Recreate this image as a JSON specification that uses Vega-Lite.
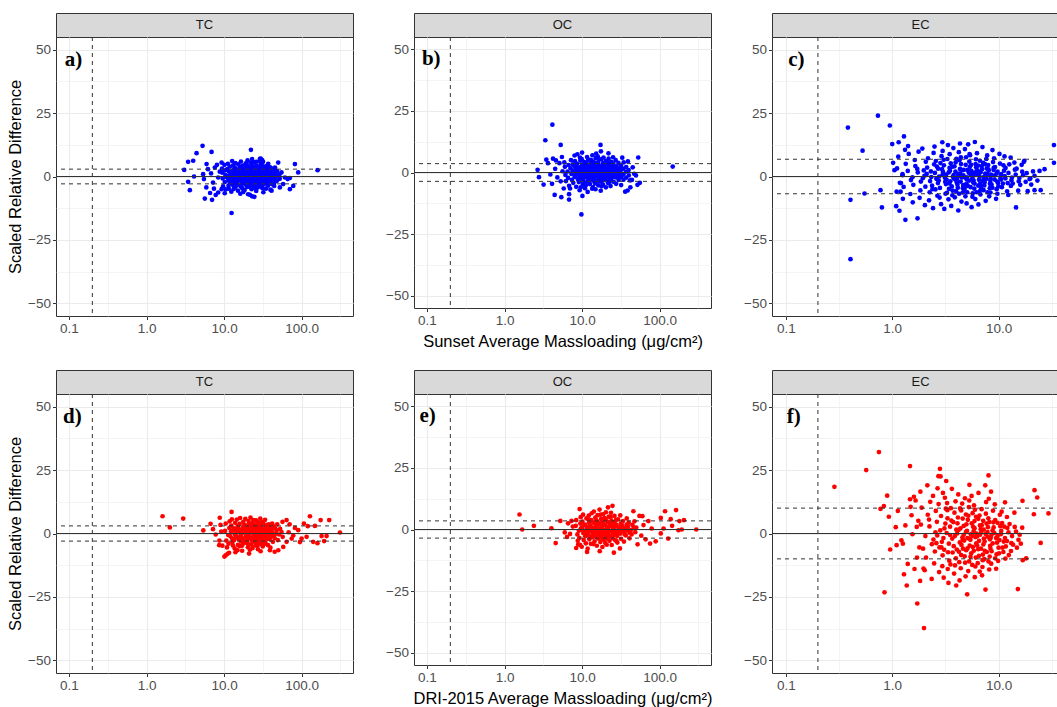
{
"$schema":"https://vega.github.io/schema/vega-lite/v6.json",
"padding":{"left":7,"top":12,"right":0,"bottom":0},
"config":{"font":"Liberation Sans","view":{"stroke":"#333333","strokeWidth":1},
"axis":{"domain":false,"gridColor":"#ebebeb","gridWidth":1.1,"tickColor":"#333333","tickSize":3.5,"tickWidth":1,"labelColor":"#4d4d4d","labelFontSize":13.5,"labelPadding":2,"labelFlush":false,"labelFont":"Liberation Sans","titleFont":"Liberation Sans","titleFontSize":16.5,"titleFontWeight":"normal","titleColor":"#000000","titlePadding":4}},
"datasets":{
"lim":[{"p":"a","y":2.9},{"p":"a","y":-2.9},{"p":"b","y":3.6},{"p":"b","y":-3.6},{"p":"c","y":6.8},{"p":"c","y":-6.8},{"p":"d","y":3.0},{"p":"d","y":-3.0},{"p":"e","y":3.5},{"p":"e","y":-3.5},{"p":"f","y":10.0},{"p":"f","y":-10.0}],
"lab":[{"p":"a","t":"a)","x":0.088,"y":46},{"p":"b","t":"b)","x":0.086,"y":46},{"p":"c","t":"c)","x":0.105,"y":46},{"p":"d","t":"d)","x":0.084,"y":46},{"p":"e","t":"e)","x":0.08,"y":46},{"p":"f","t":"f)","x":0.102,"y":46}],
"a":[{"x":5.28,"y":12.1},{"x":4.42,"y":9.2},{"x":6.9,"y":9.7},{"x":22.2,"y":10.5},{"x":3.44,"y":5.8},{"x":4.0,"y":6.2},{"x":3.06,"y":2.6},{"x":3.44,"y":-2.1},{"x":3.62,"y":-5.4},{"x":5.65,"y":-8.7},{"x":7.0,"y":-9.2},{"x":12.5,"y":-14.4},{"x":82,"y":4.9},{"x":90.4,"y":1.6},{"x":160.8,"y":2.5},{"x":70.6,"y":-5.0},{"x":78,"y":-3.7},{"x":4.1,"y":0.0},{"x":6.6,"y":-6.5},{"x":7.8,"y":-7.3},{"x":5.9,"y":-4.3},{"x":5.95,"y":4.9},{"x":6.2,"y":2.9},{"x":5.37,"y":0.9},{"x":5.5,"y":-1.0},{"x":7.2,"y":-2.4},{"x":8.4,"y":-0.4},{"x":7.6,"y":3.5},{"x":9.3,"y":5.5},{"x":8.4,"y":-6.3},{"x":10.2,"y":-6.6},{"x":9.3,"y":-5.0},{"x":49.9,"y":5.5},{"x":45.4,"y":3.5},{"x":55,"y":1.6},{"x":60.9,"y":-0.4},{"x":66,"y":-1.0},{"x":70.6,"y":-0.6},{"x":57.8,"y":-3.0},{"x":52.4,"y":-4.3},{"x":41,"y":-5.6},{"x":44.3,"y":-3.7},{"x":31,"y":6.5},{"x":29,"y":7.0},{"x":26,"y":5.8},{"x":23,"y":-7.8},{"x":20.4,"y":-7.0},{"x":17.7,"y":-6.1},{"x":6.8,"y":1.2},{"x":7.4,"y":-4.8},{"x":8.1,"y":4.6},{"x":8.8,"y":1.9},
{"x":9.4,"y":3.1},{"x":9.6,"y":-0.8},{"x":9.7,"y":-3.9},{"x":9.5,"y":1.5},{"x":10.1,"y":4.6},{"x":10.4,"y":0.6},{"x":10.2,"y":-2.2},{"x":10.5,"y":-5.1},{"x":10.3,"y":2.4},{"x":11.0,"y":2.9},{"x":11.3,"y":-1.4},{"x":11.1,"y":0.1},{"x":11.4,"y":-3.6},{"x":11.2,"y":5.0},{"x":11.5,"y":-4.8},{"x":12.0,"y":1.8},{"x":12.3,"y":-0.5},{"x":11.9,"y":3.9},{"x":12.2,"y":-2.7},{"x":12.4,"y":-6.0},{"x":12.1,"y":0.9},{"x":13.1,"y":4.4},{"x":12.8,"y":2.2},{"x":13.2,"y":-1.1},{"x":12.9,"y":-3.3},{"x":13.0,"y":0.2},{"x":13.3,"y":-4.9},{"x":12.7,"y":6.1},{"x":14.1,"y":3.2},{"x":13.8,"y":0.7},{"x":14.2,"y":-2.0},{"x":13.9,"y":-4.2},{"x":14.3,"y":1.6},{"x":14.0,"y":5.3},{"x":13.7,"y":-0.9},{"x":15.0,"y":2.6},{"x":15.3,"y":-0.3},{"x":14.9,"y":-2.9},{"x":15.2,"y":4.8},{"x":15.4,"y":1.1},{"x":15.1,"y":-5.6},{"x":14.8,"y":-1.7},{"x":16.1,"y":3.7},{"x":16.4,"y":0.4},{"x":16.0,"y":-1.5},{"x":16.3,"y":-3.8},{"x":16.5,"y":5.9},{"x":15.9,"y":2.0},{"x":16.2,"y":-6.8},{"x":17.3,"y":1.3},{"x":17.6,"y":-0.7},{"x":17.2,"y":4.1},{"x":17.5,"y":-2.5},{"x":17.8,"y":2.8},{"x":17.1,"y":-4.6},{"x":17.4,"y":0.0},{"x":18.6,"y":3.0},{"x":18.9,"y":-1.9},{"x":18.5,"y":0.8},{"x":18.8,"y":-3.2},{"x":19.1,"y":5.2},{"x":18.4,"y":-5.3},{"x":18.7,"y":1.9},{"x":20.0,"y":4.3},{"x":20.3,"y":0.3},{"x":19.8,"y":-1.2},{"x":20.2,"y":2.4},{"x":20.5,"y":-2.8},{"x":19.9,"y":-4.1},{"x":20.1,"y":6.4},{"x":20.4,"y":-0.4},{"x":21.4,"y":1.0},{"x":21.7,"y":-2.3},{"x":21.3,"y":3.5},{"x":21.6,"y":-0.6},{"x":21.9,"y":5.5},{"x":21.2,"y":-3.9},{"x":21.5,"y":-7.2},{"x":22.9,"y":2.2},{"x":23.2,"y":-1.0},{"x":22.8,"y":4.7},{"x":23.1,"y":0.5},{"x":23.4,"y":-3.0},{"x":22.7,"y":-5.0},{"x":23.0,"y":6.9},{"x":24.5,"y":3.3},{"x":24.8,"y":-0.2},{"x":24.4,"y":-1.8},{"x":24.7,"y":1.7},{"x":25.0,"y":-4.4},{"x":24.3,"y":5.6},{"x":24.6,"y":-8.0},{"x":26.2,"y":0.9},{"x":26.5,"y":-2.6},{"x":26.1,"y":2.9},{"x":26.4,"y":4.2},{"x":26.7,"y":-0.8},{"x":26.0,"y":-5.7},{"x":28.0,"y":1.5},{"x":28.3,"y":-1.3},{"x":27.9,"y":3.8},{"x":28.2,"y":-3.5},{"x":28.5,"y":6.0},{"x":27.8,"y":0.1},{"x":29.9,"y":2.5},{"x":30.2,"y":-0.5},{"x":29.8,"y":4.9},{"x":30.1,"y":-2.1},{"x":30.4,"y":-4.0},{"x":29.7,"y":7.1},{"x":32.0,"y":1.2},{"x":32.3,"y":-1.6},{"x":31.9,"y":3.4},{"x":32.2,"y":-3.1},{"x":32.5,"y":0.4},{"x":31.8,"y":5.8},{"x":32.1,"y":-6.2},{"x":34.2,"y":2.0},{"x":34.5,"y":-0.9},{"x":34.1,"y":-2.7},{"x":34.4,"y":4.0},{"x":34.7,"y":-4.8},{"x":36.6,"y":0.6},{"x":36.9,"y":2.7},{"x":36.5,"y":-1.9},{"x":36.8,"y":-3.6},{"x":37.1,"y":5.0},{"x":39.1,"y":1.8},{"x":39.4,"y":-0.3},{"x":39.0,"y":-2.4},{"x":39.3,"y":3.6},{"x":39.6,"y":-5.2},{"x":41.8,"y":0.9},{"x":42.1,"y":2.4},{"x":41.7,"y":-1.4},{"x":42.0,"y":-3.1},{"x":44.7,"y":1.4},{"x":45.0,"y":-0.6},{"x":44.6,"y":3.0},{"x":44.9,"y":-2.2},{"x":47.8,"y":0.2},{"x":48.3,"y":2.1},{"x":48.0,"y":-1.7},{"x":51.8,"y":0.8},{"x":52.3,"y":-0.9},
{"x":10.8,"y":-0.3},{"x":11.6,"y":1.9},{"x":12.6,"y":-1.8},{"x":13.5,"y":3.0},{"x":13.4,"y":-2.4},{"x":14.5,"y":0.1},{"x":14.6,"y":-3.4},{"x":15.6,"y":1.8},{"x":15.7,"y":-0.9},{"x":16.8,"y":2.6},{"x":16.9,"y":-2.9},{"x":17.9,"y":-0.2},{"x":18.1,"y":4.4},{"x":18.2,"y":-1.0},{"x":19.4,"y":1.2},{"x":19.5,"y":-2.2},{"x":19.6,"y":3.6},{"x":20.8,"y":-3.5},{"x":20.9,"y":1.6},{"x":21.1,"y":-1.5},{"x":22.2,"y":0.2},{"x":22.3,"y":2.9},{"x":22.4,"y":-2.0},{"x":22.5,"y":-4.5},{"x":23.7,"y":1.1},{"x":23.8,"y":-2.5},{"x":23.9,"y":3.9},{"x":25.3,"y":0.4},{"x":25.4,"y":-3.2},{"x":25.6,"y":2.4},{"x":25.5,"y":-1.1},{"x":27.0,"y":1.8},{"x":27.1,"y":-1.9},{"x":27.3,"y":3.3},{"x":27.2,"y":-4.3},{"x":29.0,"y":0.7},{"x":29.1,"y":-2.8},{"x":29.2,"y":2.2},{"x":28.9,"y":-0.6},{"x":31.0,"y":1.9},{"x":31.1,"y":-1.0},{"x":31.2,"y":4.1},{"x":31.3,"y":-4.6},{"x":33.1,"y":0.9},{"x":33.3,"y":-2.1},{"x":33.2,"y":2.8},{"x":35.4,"y":1.4},{"x":35.6,"y":-1.5},{"x":35.5,"y":3.6},{"x":37.9,"y":-0.8},{"x":38.1,"y":1.1},{"x":38.0,"y":-3.0},{"x":40.5,"y":0.2},{"x":40.6,"y":-2.0},{"x":40.7,"y":3.2},{"x":43.3,"y":-0.9},{"x":43.4,"y":1.9},{"x":46.3,"y":0.9},{"x":46.4,"y":-1.2},{"x":11.7,"y":-2.0},{"x":12.9,"y":0.9},{"x":14.8,"y":2.2},{"x":16.6,"y":-1.2},{"x":19.0,"y":0.1},{"x":20.6,"y":3.0},{"x":24.0,"y":0.9},{"x":26.8,"y":-0.4},{"x":30.6,"y":0.8},{"x":34.0,"y":-0.1},{"x":28.6,"y":2.9}],
"b":[{"x":4.14,"y":19.4},{"x":3.36,"y":13.1},{"x":5.3,"y":11.2},{"x":17.3,"y":11.2},{"x":2.67,"y":1.1},{"x":2.78,"y":-1.9},{"x":3.19,"y":-4.9},{"x":4.1,"y":-4.6},{"x":4.43,"y":-9.1},{"x":5.4,"y":-10.0},{"x":6.8,"y":-8.8},{"x":6.8,"y":-11.0},{"x":10.1,"y":-9.5},{"x":9.8,"y":-17.0},{"x":3.46,"y":5.2},{"x":3.63,"y":3.8},{"x":53,"y":6.1},{"x":49.5,"y":-1.2},{"x":55.6,"y":-4.2},{"x":51.8,"y":-5.0},{"x":38.7,"y":-7.3},{"x":147.6,"y":2.4},{"x":41.5,"y":-3.2},{"x":4.22,"y":5.6},{"x":4.5,"y":1.5},{"x":4.8,"y":-2.0},{"x":5.1,"y":3.8},{"x":5.3,"y":-3.6},{"x":5.6,"y":0.5},{"x":5.8,"y":-6.5},{"x":5.5,"y":6.3},{"x":45,"y":2.1},{"x":47,"y":-0.5},{"x":44,"y":-3.0},{"x":39,"y":4.5},{"x":42,"y":-6.0},{"x":36,"y":-7.8},{"x":33,"y":6.0},{"x":3.9,"y":-0.8},{"x":4.6,"y":4.9},
{"x":6.0,"y":2.3},{"x":6.1,"y":-1.0},{"x":5.9,"y":4.1},{"x":6.2,"y":-3.5},{"x":6.5,"y":0.4},{"x":6.7,"y":3.0},{"x":6.6,"y":-2.2},{"x":6.8,"y":-5.4},{"x":7.1,"y":1.7},{"x":7.3,"y":-0.6},{"x":7.2,"y":5.0},{"x":7.4,"y":-3.0},{"x":7.0,"y":-6.5},{"x":7.8,"y":2.8},{"x":8.0,"y":-1.8},{"x":7.9,"y":0.9},{"x":8.1,"y":4.6},{"x":7.7,"y":-4.2},{"x":8.0,"y":6.9},{"x":8.5,"y":1.2},{"x":8.7,"y":-0.3},{"x":8.6,"y":3.5},{"x":8.8,"y":-2.6},{"x":8.4,"y":-5.8},{"x":8.7,"y":7.4},{"x":9.2,"y":2.1},{"x":9.4,"y":0.0},{"x":9.3,"y":-1.5},{"x":9.5,"y":4.8},{"x":9.1,"y":-3.9},{"x":9.4,"y":6.0},{"x":9.3,"y":-7.2},{"x":10.0,"y":3.1},{"x":10.2,"y":0.8},{"x":10.1,"y":-0.9},{"x":10.3,"y":-2.9},{"x":9.9,"y":5.4},{"x":10.2,"y":-5.0},{"x":10.0,"y":8.1},{"x":10.8,"y":1.5},{"x":11.0,"y":-1.9},{"x":10.9,"y":2.6},{"x":11.1,"y":-4.1},{"x":10.7,"y":4.2},{"x":11.0,"y":0.2},{"x":10.9,"y":-6.4},{"x":11.7,"y":2.9},{"x":11.9,"y":-0.5},{"x":11.8,"y":1.0},{"x":12.0,"y":-2.4},{"x":11.6,"y":6.3},{"x":11.9,"y":-3.6},{"x":11.8,"y":-7.9},{"x":12.7,"y":0.6},{"x":12.9,"y":3.7},{"x":12.8,"y":-1.3},{"x":13.0,"y":5.1},{"x":12.6,"y":-4.7},{"x":12.9,"y":2.0},{"x":12.8,"y":-0.1},{"x":13.7,"y":1.9},{"x":13.9,"y":-2.1},{"x":13.8,"y":4.4},{"x":14.0,"y":-0.7},{"x":13.6,"y":7.0},{"x":13.9,"y":-3.3},{"x":13.8,"y":-5.9},{"x":14.8,"y":3.3},{"x":15.0,"y":0.3},{"x":14.9,"y":-1.6},{"x":15.1,"y":2.4},{"x":14.7,"y":-4.4},{"x":15.0,"y":5.8},{"x":14.9,"y":-6.8},{"x":16.0,"y":1.1},{"x":16.2,"y":-0.4},{"x":16.1,"y":4.0},{"x":16.3,"y":-2.8},{"x":15.9,"y":6.6},{"x":16.2,"y":-5.2},{"x":16.1,"y":2.7},{"x":17.3,"y":2.2},{"x":17.5,"y":-1.1},{"x":17.4,"y":0.5},{"x":17.6,"y":5.3},{"x":17.2,"y":-3.7},{"x":17.5,"y":8.6},{"x":17.4,"y":-7.4},{"x":18.7,"y":3.8},{"x":18.9,"y":0.1},{"x":18.8,"y":-2.3},{"x":19.0,"y":1.6},{"x":18.6,"y":-4.9},{"x":18.9,"y":6.1},{"x":20.1,"y":1.4},{"x":20.3,"y":-0.8},{"x":20.2,"y":4.7},{"x":20.4,"y":-3.1},{"x":20.0,"y":2.9},{"x":20.3,"y":-6.0},{"x":21.7,"y":0.7},{"x":21.9,"y":3.2},{"x":21.8,"y":-1.7},{"x":22.0,"y":5.6},{"x":21.6,"y":-4.3},{"x":21.9,"y":7.8},{"x":23.4,"y":2.0},{"x":23.6,"y":-0.2},{"x":23.5,"y":-2.7},{"x":23.7,"y":4.3},{"x":23.3,"y":-5.5},{"x":25.2,"y":1.3},{"x":25.4,"y":-1.4},{"x":25.3,"y":3.6},{"x":25.5,"y":-3.8},{"x":25.1,"y":6.2},{"x":27.2,"y":0.4},{"x":27.4,"y":2.5},{"x":27.3,"y":-2.0},{"x":27.5,"y":-4.6},{"x":27.1,"y":5.0},{"x":29.3,"y":1.8},{"x":29.5,"y":-0.9},{"x":29.4,"y":3.9},{"x":29.6,"y":-3.0},{"x":31.6,"y":0.9},{"x":31.8,"y":-1.8},{"x":31.7,"y":2.8},{"x":31.9,"y":-5.1},{"x":34.1,"y":1.6},{"x":34.3,"y":-0.6},{"x":34.2,"y":-2.9},{"x":34.4,"y":4.1},{"x":36.9,"y":0.3},{"x":37.1,"y":2.2},{"x":37.0,"y":-2.1},{"x":39.9,"y":1.0},{"x":40.1,"y":-1.2},
{"x":7.5,"y":0.2},{"x":7.6,"y":3.3},{"x":8.2,"y":-1.1},{"x":8.3,"y":2.0},{"x":8.9,"y":0.6},{"x":9.0,"y":-3.0},{"x":9.7,"y":1.5},{"x":9.8,"y":-2.4},{"x":10.5,"y":2.4},{"x":10.6,"y":-0.2},{"x":10.4,"y":-4.1},{"x":11.3,"y":0.5},{"x":11.4,"y":3.8},{"x":11.5,"y":-1.4},{"x":12.2,"y":-0.9},{"x":12.3,"y":2.2},{"x":12.4,"y":-3.1},{"x":13.2,"y":1.1},{"x":13.3,"y":-2.0},{"x":13.4,"y":3.0},{"x":14.3,"y":0.9},{"x":14.4,"y":-1.0},{"x":14.4,"y":4.0},{"x":14.5,"y":-3.0},{"x":15.5,"y":1.8},{"x":15.5,"y":-0.8},{"x":15.6,"y":-3.6},{"x":15.7,"y":3.9},{"x":16.7,"y":0.2},{"x":16.7,"y":2.1},{"x":16.8,"y":-1.9},{"x":18.0,"y":1.0},{"x":18.1,"y":-0.6},{"x":18.2,"y":3.0},{"x":18.1,"y":-3.3},{"x":19.4,"y":0.5},{"x":19.5,"y":-1.5},{"x":19.6,"y":2.3},{"x":20.8,"y":0.0},{"x":20.9,"y":2.0},{"x":21.0,"y":-2.5},{"x":22.6,"y":1.5},{"x":22.7,"y":-0.9},{"x":22.8,"y":-3.8},{"x":24.4,"y":0.6},{"x":24.5,"y":2.8},{"x":24.4,"y":-1.9},{"x":26.2,"y":-0.3},{"x":26.3,"y":1.8},{"x":28.3,"y":0.9},{"x":28.4,"y":-1.5},{"x":30.5,"y":0.1},{"x":30.6,"y":2.0},{"x":33.0,"y":-1.0},{"x":12.0,"y":5.2},{"x":16.5,"y":5.3},{"x":9.6,"y":-6.0},{"x":13.5,"y":-6.6},{"x":17.8,"y":-5.6},{"x":21.1,"y":4.2},{"x":15.2,"y":7.7},{"x":11.2,"y":-5.2}],
"c":[{"x":0.383,"y":19.3},{"x":0.734,"y":24.0},{"x":0.95,"y":20.1},{"x":0.526,"y":10.2},{"x":0.405,"y":-9.2},{"x":0.549,"y":-6.7},{"x":0.776,"y":-5.4},{"x":0.8,"y":-12.2},{"x":0.405,"y":-32.6},{"x":1.33,"y":-17.1},{"x":1.73,"y":-16.5},{"x":1.09,"y":-11.7},{"x":1.17,"y":-13.5},{"x":1.0,"y":12.8},{"x":1.29,"y":15.8},{"x":1.15,"y":13.5},{"x":1.02,"y":5.4},{"x":1.05,"y":2.5},{"x":33.2,"y":12.4},{"x":33.2,"y":5.4},{"x":27.1,"y":2.9},{"x":24.3,"y":2.2},{"x":14.6,"y":-12.2},{"x":24.9,"y":-5.4},{"x":21.8,"y":-5.4},{"x":17.5,"y":6.2},{"x":13.0,"y":7.5},{"x":1.21,"y":-2.6},{"x":1.25,"y":0.9},{"x":1.1,"y":-6.0},
{"x":1.11,"y":3.2},{"x":1.18,"y":-2.5},{"x":1.14,"y":7.8},{"x":1.2,"y":-6.0},{"x":1.25,"y":0.5},{"x":1.34,"y":5.0},{"x":1.28,"y":-4.1},{"x":1.32,"y":10.5},{"x":1.26,"y":-8.8},{"x":1.4,"y":2.2},{"x":1.5,"y":-1.4},{"x":1.43,"y":8.9},{"x":1.48,"y":-6.9},{"x":1.41,"y":12.0},{"x":1.55,"y":-0.3},{"x":1.65,"y":4.1},{"x":1.58,"y":-3.3},{"x":1.63,"y":6.5},{"x":1.56,"y":-10.2},{"x":1.74,"y":1.6},{"x":1.86,"y":-2.0},{"x":1.77,"y":9.8},{"x":1.84,"y":-5.5},{"x":1.72,"y":3.0},{"x":1.81,"y":-8.4},{"x":1.94,"y":-0.7},{"x":2.07,"y":5.8},{"x":1.98,"y":2.4},{"x":2.05,"y":-4.0},{"x":1.92,"y":11.0},{"x":2.03,"y":-11.3},{"x":2.01,"y":0.3},{"x":2.13,"y":3.5},{"x":2.27,"y":-1.8},{"x":2.17,"y":7.2},{"x":2.25,"y":-6.2},{"x":2.11,"y":1.0},{"x":2.22,"y":-9.4},{"x":2.33,"y":-0.2},{"x":2.48,"y":4.8},{"x":2.37,"y":-3.6},{"x":2.45,"y":9.3},{"x":2.31,"y":2.0},{"x":2.42,"y":-12.5},{"x":2.39,"y":-5.0},{"x":2.52,"y":1.4},{"x":2.69,"y":-2.6},{"x":2.57,"y":6.1},{"x":2.66,"y":-7.6},{"x":2.5,"y":11.8},{"x":2.63,"y":3.9},{"x":2.6,"y":-0.9},{"x":2.76,"y":0.0},{"x":2.94,"y":2.9},{"x":2.81,"y":-4.5},{"x":2.91,"y":8.0},{"x":2.74,"y":-1.6},{"x":2.88,"y":-10.9},{"x":2.84,"y":5.3},{"x":2.96,"y":13.5},{"x":3.0,"y":1.8},{"x":3.2,"y":-3.0},{"x":3.06,"y":4.4},{"x":3.17,"y":-6.8},{"x":2.98,"y":10.1},{"x":3.13,"y":-0.5},{"x":3.09,"y":-12.8},{"x":3.24,"y":-1.2},{"x":3.46,"y":3.4},{"x":3.3,"y":6.9},{"x":3.42,"y":-4.9},{"x":3.22,"y":0.8},{"x":3.38,"y":-9.0},{"x":3.34,"y":12.4},{"x":3.44,"y":-2.7},{"x":3.49,"y":2.3},{"x":3.72,"y":-0.1},{"x":3.55,"y":5.2},{"x":3.68,"y":-7.4},{"x":3.47,"y":8.8},{"x":3.63,"y":-3.9},{"x":3.59,"y":-11.6},{"x":3.78,"y":0.6},{"x":4.03,"y":-2.2},{"x":3.85,"y":4.0},{"x":3.99,"y":-5.8},{"x":3.76,"y":11.2},{"x":3.93,"y":1.9},{"x":3.88,"y":-8.2},{"x":4.01,"y":7.0},{"x":4.07,"y":-0.8},{"x":4.34,"y":3.0},{"x":4.14,"y":-4.4},{"x":4.29,"y":6.4},{"x":4.05,"y":-1.9},{"x":4.23,"y":9.6},{"x":4.18,"y":-13.4},{"x":4.31,"y":0.2},{"x":4.36,"y":1.2},{"x":4.65,"y":-3.4},{"x":4.44,"y":4.9},{"x":4.6,"y":-6.3},{"x":4.34,"y":13.0},{"x":4.53,"y":-0.4},{"x":4.48,"y":-9.9},{"x":4.7,"y":2.6},{"x":5.01,"y":-1.1},{"x":4.78,"y":-5.2},{"x":4.95,"y":7.6},{"x":4.67,"y":0.5},{"x":4.88,"y":-7.8},{"x":4.83,"y":10.8},{"x":4.98,"y":-2.9},{"x":5.04,"y":-0.3},{"x":5.37,"y":3.8},{"x":5.13,"y":-3.6},{"x":5.31,"y":5.9},{"x":5.01,"y":-10.6},{"x":5.24,"y":1.5},{"x":5.18,"y":12.7},{"x":5.43,"y":1.0},{"x":5.78,"y":-2.4},{"x":5.52,"y":4.6},{"x":5.72,"y":-6.6},{"x":5.4,"y":8.4},{"x":5.64,"y":-0.9},{"x":5.58,"y":-12.1},{"x":5.82,"y":-1.5},{"x":6.2,"y":2.1},{"x":5.92,"y":-4.8},{"x":6.13,"y":6.8},{"x":5.79,"y":0.3},{"x":6.05,"y":-8.9},{"x":5.99,"y":13.6},{"x":6.16,"y":3.6},{"x":6.3,"y":0.7},{"x":6.71,"y":-2.9},{"x":6.41,"y":4.3},{"x":6.64,"y":-5.9},{"x":6.27,"y":9.2},{"x":6.55,"y":-1.3},{"x":6.47,"y":-11.0},{"x":6.79,"y":1.7},{"x":7.23,"y":-0.6},{"x":6.9,"y":-3.8},{"x":7.15,"y":5.4},{"x":6.76,"y":-7.1},{"x":7.06,"y":11.6},{"x":7.0,"y":2.9},{"x":7.27,"y":-0.2},{"x":7.75,"y":3.2},{"x":7.4,"y":-2.3},{"x":7.66,"y":6.9},{"x":7.24,"y":-5.4},{"x":7.57,"y":-9.6},{"x":7.5,"y":1.1},{"x":7.85,"y":0.9},{"x":8.37,"y":-1.7},{"x":7.99,"y":4.5},{"x":8.27,"y":-4.6},{"x":7.82,"y":8.3},{"x":8.17,"y":-7.8},{"x":8.08,"y":2.4},{"x":8.43,"y":-0.9},{"x":8.99,"y":2.6},{"x":8.58,"y":-3.1},{"x":8.88,"y":5.7},{"x":8.4,"y":-6.3},{"x":8.77,"y":10.4},{"x":9.11,"y":0.4},{"x":9.71,"y":-2.0},{"x":9.27,"y":3.7},{"x":9.6,"y":-5.0},{"x":9.08,"y":7.2},{"x":9.48,"y":-8.8},{"x":9.79,"y":1.9},{"x":10.43,"y":-0.7},{"x":9.96,"y":-3.9},{"x":10.32,"y":5.1},{"x":9.75,"y":-6.8},{"x":10.2,"y":8.9},{"x":10.56,"y":-1.2},{"x":11.26,"y":2.3},{"x":10.75,"y":-4.2},{"x":11.13,"y":4.4},{"x":10.5,"y":0.6},{"x":11.43,"y":0.2},{"x":12.19,"y":-2.6},{"x":11.64,"y":3.4},{"x":12.05,"y":-5.9},{"x":11.38,"y":7.9},{"x":12.4,"y":1.4},{"x":13.22,"y":-1.5},{"x":12.62,"y":4.8},{"x":13.07,"y":-3.7},{"x":12.35,"y":-7.3},{"x":13.37,"y":-0.4},{"x":14.25,"y":2.7},{"x":13.61,"y":-2.8},{"x":14.09,"y":5.5},{"x":14.5,"y":0.8},{"x":15.5,"y":-1.9},{"x":14.8,"y":3.1},{"x":15.3,"y":-5.6},{"x":15.7,"y":-0.6},{"x":16.7,"y":1.9},{"x":16.0,"y":-3.3},{"x":16.5,"y":4.6},{"x":17.0,"y":0.5},{"x":18.0,"y":-2.1},{"x":17.3,"y":5.8},{"x":18.4,"y":1.3},{"x":19.6,"y":-1.0},{"x":18.8,"y":-5.8},{"x":19.9,"y":-0.8},{"x":21.1,"y":2.0},{"x":20.3,"y":-3.2},{"x":21.8,"y":0.3},{"x":23.2,"y":-1.6},
{"x":2.55,"y":-5.1},{"x":2.7,"y":3.1},{"x":2.79,"y":-8.3},{"x":2.99,"y":0.9},{"x":3.04,"y":6.6},{"x":3.15,"y":-2.1},{"x":3.27,"y":-6.4},{"x":3.4,"y":1.6},{"x":3.52,"y":-1.9},{"x":3.65,"y":3.8},{"x":3.7,"y":-5.6},{"x":3.82,"y":-0.9},{"x":3.95,"y":5.6},{"x":4.1,"y":-3.2},{"x":4.12,"y":1.0},{"x":4.26,"y":-6.8},{"x":4.4,"y":-2.0},{"x":4.42,"y":7.6},{"x":4.57,"y":2.5},{"x":4.62,"y":-4.6},{"x":4.74,"y":-0.2},{"x":4.91,"y":4.6},{"x":4.93,"y":-3.9},{"x":5.07,"y":-6.2},{"x":5.1,"y":2.6},{"x":5.28,"y":-1.6},{"x":5.34,"y":8.8},{"x":5.46,"y":-4.2},{"x":5.55,"y":2.2},{"x":5.68,"y":-8.0},{"x":5.85,"y":1.4},{"x":5.95,"y":-2.8},{"x":6.08,"y":4.9},{"x":6.22,"y":-6.2},{"x":6.35,"y":2.4},{"x":6.45,"y":-3.6},{"x":6.6,"y":0.2},{"x":6.68,"y":6.2},{"x":6.84,"y":-4.9},{"x":6.95,"y":4.1},{"x":7.1,"y":-1.8},{"x":7.35,"y":-3.5},{"x":7.45,"y":4.9},{"x":7.7,"y":-0.9},{"x":7.9,"y":-6.2},{"x":8.02,"y":2.8},{"x":8.3,"y":-2.9},{"x":8.5,"y":0.8},{"x":8.75,"y":-4.4},{"x":9.0,"y":3.4},{"x":9.2,"y":-1.2},{"x":9.55,"y":1.1},{"x":9.9,"y":-2.6},{"x":10.6,"y":0.9},{"x":11.0,"y":-2.8},{"x":11.6,"y":-0.8}],
"d":[{"x":1.61,"y":6.8},{"x":2.0,"y":2.4},{"x":2.97,"y":5.9},{"x":5.4,"y":1.2},{"x":6.7,"y":3.8},{"x":7.2,"y":1.7},{"x":8.8,"y":6.2},{"x":12.5,"y":8.5},{"x":8.66,"y":-4.6},{"x":10.5,"y":-8.6},{"x":10.1,"y":-9.1},{"x":11.1,"y":-8.0},{"x":312,"y":0.4},{"x":227,"y":5.3},{"x":176,"y":5.3},{"x":128,"y":6.8},{"x":107,"y":3.9},{"x":148.6,"y":3.0},{"x":210,"y":-1.0},{"x":181,"y":-1.0},{"x":141,"y":-3.3},{"x":116,"y":-1.3},{"x":100,"y":-2.0},{"x":90.4,"y":1.3},{"x":82,"y":2.2},{"x":64,"y":5.3},{"x":56.7,"y":4.6},{"x":74.5,"y":-2.0},{"x":64,"y":-3.3},{"x":58,"y":-5.3},{"x":50,"y":-6.6},{"x":39,"y":-6.6},{"x":21,"y":-7.9},{"x":29.6,"y":-7.0},{"x":7.8,"y":-0.4},{"x":8.7,"y":-2.8},{"x":9.2,"y":0.8},{"x":9.5,"y":-4.8},{"x":68,"y":0.5},{"x":78,"y":-0.8},{"x":95,"y":-3.4},{"x":120,"y":2.9},{"x":160,"y":-3.8},{"x":195,"y":-3.0},{"x":9.0,"y":3.4},{"x":14,"y":-7.4},{"x":45,"y":-7.2},{"x":70,"y":3.6},
{"x":10.3,"y":1.0},{"x":10.7,"y":-2.8},{"x":10.5,"y":3.9},{"x":10.9,"y":-5.5},{"x":11.3,"y":-0.6},{"x":11.7,"y":2.2},{"x":11.4,"y":-4.0},{"x":11.8,"y":4.8},{"x":11.6,"y":-7.6},{"x":12.3,"y":0.8},{"x":12.7,"y":-1.9},{"x":12.4,"y":3.1},{"x":12.8,"y":-3.4},{"x":12.6,"y":5.6},{"x":13.4,"y":2.0},{"x":13.8,"y":-0.3},{"x":13.5,"y":-2.6},{"x":13.9,"y":4.2},{"x":13.7,"y":-5.9},{"x":14.5,"y":0.4},{"x":15.0,"y":2.9},{"x":14.7,"y":-1.5},{"x":15.1,"y":-4.5},{"x":14.6,"y":5.5},{"x":14.9,"y":-6.6},{"x":15.7,"y":1.6},{"x":16.3,"y":-0.8},{"x":15.9,"y":3.8},{"x":16.4,"y":-3.0},{"x":16.1,"y":6.1},{"x":15.8,"y":-5.0},{"x":17.0,"y":0.1},{"x":17.6,"y":2.5},{"x":17.2,"y":-2.1},{"x":17.7,"y":4.6},{"x":17.4,"y":-4.1},{"x":17.1,"y":-6.8},{"x":18.4,"y":1.3},{"x":19.0,"y":-1.1},{"x":18.6,"y":3.3},{"x":19.1,"y":-3.6},{"x":18.8,"y":5.8},{"x":18.5,"y":0.6},{"x":19.8,"y":2.4},{"x":20.5,"y":-0.4},{"x":20.1,"y":-2.5},{"x":20.7,"y":4.9},{"x":20.3,"y":-5.4},{"x":19.9,"y":1.0},{"x":21.4,"y":0.3},{"x":22.2,"y":3.0},{"x":21.7,"y":-1.7},{"x":22.3,"y":-4.3},{"x":21.9,"y":6.3},{"x":21.5,"y":-6.4},{"x":23.1,"y":1.8},{"x":23.9,"y":-0.9},{"x":23.4,"y":4.1},{"x":24.0,"y":-3.2},{"x":23.6,"y":2.6},{"x":23.2,"y":-5.8},{"x":24.9,"y":0.7},{"x":25.7,"y":-2.3},{"x":25.2,"y":3.5},{"x":25.8,"y":5.2},{"x":25.4,"y":-4.7},{"x":25.0,"y":-1.2},{"x":26.8,"y":2.1},{"x":27.6,"y":-0.2},{"x":27.1,"y":-3.0},{"x":27.7,"y":4.4},{"x":27.3,"y":-6.2},{"x":26.9,"y":1.4},{"x":28.8,"y":0.9},{"x":29.6,"y":-1.6},{"x":29.1,"y":3.0},{"x":29.7,"y":-4.0},{"x":29.3,"y":5.9},{"x":30.9,"y":1.7},{"x":31.9,"y":-0.6},{"x":31.3,"y":-2.7},{"x":32.0,"y":4.0},{"x":31.5,"y":-5.1},{"x":33.2,"y":0.2},{"x":34.2,"y":2.7},{"x":33.6,"y":-1.9},{"x":34.3,"y":-3.8},{"x":33.8,"y":5.4},{"x":35.7,"y":1.1},{"x":36.8,"y":-1.0},{"x":36.1,"y":3.4},{"x":36.9,"y":-4.6},{"x":38.3,"y":0.5},{"x":39.5,"y":2.3},{"x":38.8,"y":-2.2},{"x":39.6,"y":-5.6},{"x":41.2,"y":1.5},{"x":42.5,"y":-0.5},{"x":41.7,"y":3.9},{"x":42.6,"y":-3.3},{"x":44.3,"y":0.0},{"x":45.8,"y":2.0},{"x":44.9,"y":-1.8},{"x":47.7,"y":1.2},{"x":49.3,"y":-2.6},{"x":48.4,"y":3.6},{"x":51.2,"y":-0.4},{"x":52.9,"y":1.8},{"x":55.1,"y":0.6},{"x":57.0,"y":-1.3},
{"x":12.0,"y":-1.0},{"x":13.0,"y":1.2},{"x":14.2,"y":-1.0},{"x":14.3,"y":1.5},{"x":15.4,"y":-2.2},{"x":15.5,"y":0.9},{"x":16.6,"y":1.1},{"x":16.7,"y":-1.6},{"x":17.9,"y":0.9},{"x":18.0,"y":-2.9},{"x":18.1,"y":3.0},{"x":19.4,"y":0.2},{"x":19.5,"y":2.6},{"x":19.6,"y":-1.8},{"x":20.9,"y":-1.2},{"x":21.0,"y":1.6},{"x":21.1,"y":3.8},{"x":22.6,"y":0.9},{"x":22.7,"y":-2.6},{"x":22.8,"y":2.1},{"x":24.3,"y":-0.4},{"x":24.4,"y":1.2},{"x":24.5,"y":-2.3},{"x":24.6,"y":3.1},{"x":26.1,"y":0.1},{"x":26.2,"y":2.6},{"x":26.3,"y":-1.9},{"x":26.4,"y":-3.8},{"x":28.1,"y":-0.9},{"x":28.2,"y":1.6},{"x":28.3,"y":3.6},{"x":28.0,"y":-2.6},{"x":30.2,"y":0.4},{"x":30.3,"y":-1.8},{"x":30.1,"y":2.5},{"x":32.5,"y":1.1},{"x":32.6,"y":-1.2},{"x":32.7,"y":-4.2},{"x":35.0,"y":0.2},{"x":35.1,"y":2.1},{"x":35.2,"y":-2.3},{"x":37.6,"y":-0.3},{"x":37.7,"y":1.4},{"x":40.4,"y":-1.2},{"x":40.5,"y":0.9},{"x":43.5,"y":-0.8},{"x":43.6,"y":2.8},{"x":46.8,"y":-0.1},{"x":20.0,"y":-3.7},{"x":23.8,"y":5.3},{"x":27.0,"y":-4.9},{"x":31.0,"y":4.6},{"x":17.0,"y":-4.8},{"x":13.0,"y":-4.7},{"x":38.0,"y":3.6}],
"e":[{"x":1.56,"y":6.1},{"x":1.69,"y":0.0},{"x":2.39,"y":1.5},{"x":4.02,"y":0.5},{"x":4.57,"y":-5.5},{"x":5.25,"y":3.5},{"x":5.98,"y":-1.2},{"x":6.4,"y":-3.0},{"x":7.3,"y":3.5},{"x":9.3,"y":8.3},{"x":8.9,"y":-6.1},{"x":8.4,"y":-7.5},{"x":11.6,"y":-9.1},{"x":16.9,"y":-8.8},{"x":25.7,"y":-9.4},{"x":24.7,"y":9.6},{"x":30.8,"y":-7.7},{"x":45.9,"y":7.4},{"x":54.9,"y":5.5},{"x":71.6,"y":3.4},{"x":79,"y":0.4},{"x":75.3,"y":-5.7},{"x":89,"y":-4.8},{"x":117.5,"y":7.4},{"x":103.6,"y":4.7},{"x":139,"y":4.2},{"x":163,"y":7.9},{"x":180,"y":3.4},{"x":206,"y":3.8},{"x":145,"y":1.5},{"x":112.5,"y":0.4},{"x":175,"y":-0.3},{"x":193,"y":0.0},{"x":297,"y":0.0},{"x":129,"y":-3.7},{"x":103.6,"y":-1.6},{"x":58,"y":-2.5},{"x":62,"y":1.8},{"x":66,"y":-4.0},{"x":52,"y":-6.0},{"x":60,"y":5.4},{"x":7.0,"y":-1.8},{"x":7.6,"y":1.2},{"x":6.6,"y":2.5},{"x":50,"y":0.8},
{"x":8.3,"y":1.5},{"x":8.7,"y":-2.0},{"x":8.4,"y":3.8},{"x":8.8,"y":-4.6},{"x":9.1,"y":-0.5},{"x":9.5,"y":2.4},{"x":9.2,"y":-3.4},{"x":9.6,"y":5.0},{"x":9.4,"y":-6.2},{"x":10.0,"y":0.9},{"x":10.4,"y":-1.5},{"x":10.1,"y":3.2},{"x":10.5,"y":-4.3},{"x":10.3,"y":6.0},{"x":9.9,"y":-7.0},{"x":10.9,"y":2.0},{"x":11.3,"y":-0.2},{"x":11.0,"y":-2.7},{"x":11.4,"y":4.5},{"x":11.2,"y":-5.6},{"x":11.9,"y":0.3},{"x":12.3,"y":2.8},{"x":12.0,"y":-1.8},{"x":12.4,"y":-4.0},{"x":12.2,"y":5.6},{"x":11.8,"y":-7.8},{"x":12.9,"y":1.4},{"x":13.5,"y":-0.9},{"x":13.1,"y":3.8},{"x":13.6,"y":-3.1},{"x":13.3,"y":6.6},{"x":13.0,"y":-5.8},{"x":14.1,"y":0.0},{"x":14.7,"y":2.3},{"x":14.3,"y":-2.3},{"x":14.8,"y":4.8},{"x":14.5,"y":-4.8},{"x":14.2,"y":7.3},{"x":15.4,"y":1.2},{"x":16.0,"y":-1.2},{"x":15.6,"y":3.3},{"x":16.1,"y":-3.7},{"x":15.8,"y":5.8},{"x":15.5,"y":-6.6},{"x":16.7,"y":2.6},{"x":17.5,"y":-0.4},{"x":17.0,"y":-2.6},{"x":17.6,"y":4.3},{"x":17.2,"y":-5.1},{"x":16.8,"y":8.1},{"x":18.2,"y":0.6},{"x":19.0,"y":-1.9},{"x":18.5,"y":3.0},{"x":19.1,"y":-4.2},{"x":18.7,"y":6.2},{"x":18.3,"y":-7.1},{"x":19.8,"y":1.8},{"x":20.6,"y":-0.7},{"x":20.1,"y":4.1},{"x":20.7,"y":-3.0},{"x":20.3,"y":7.0},{"x":19.9,"y":-5.5},{"x":21.5,"y":0.2},{"x":22.5,"y":2.5},{"x":21.9,"y":-2.1},{"x":22.6,"y":-4.6},{"x":22.1,"y":5.2},{"x":21.6,"y":9.0},{"x":23.5,"y":1.5},{"x":24.5,"y":-1.0},{"x":23.9,"y":3.6},{"x":24.6,"y":-3.5},{"x":24.1,"y":-6.3},{"x":23.6,"y":6.8},{"x":25.6,"y":0.7},{"x":26.7,"y":-1.6},{"x":26.0,"y":2.9},{"x":26.8,"y":-4.4},{"x":26.2,"y":5.5},{"x":27.8,"y":1.9},{"x":29.0,"y":-0.3},{"x":28.3,"y":-2.6},{"x":29.1,"y":4.1},{"x":28.5,"y":-5.3},{"x":30.3,"y":0.4},{"x":31.7,"y":2.4},{"x":30.9,"y":-1.7},{"x":31.8,"y":-3.8},{"x":31.1,"y":5.7},{"x":33.1,"y":1.3},{"x":34.6,"y":-0.9},{"x":33.7,"y":3.4},{"x":34.7,"y":-4.9},{"x":36.0,"y":0.0},{"x":37.6,"y":2.0},{"x":36.7,"y":-2.4},{"x":37.7,"y":4.5},{"x":39.1,"y":1.1},{"x":40.9,"y":-1.3},{"x":39.9,"y":2.8},{"x":41.0,"y":-3.6},{"x":42.7,"y":-0.2},{"x":44.5,"y":1.9},{"x":43.5,"y":-2.0},{"x":46.5,"y":0.9},{"x":48.5,"y":-1.1},{"x":47.4,"y":3.3},
{"x":9.7,"y":0.5},{"x":10.3,"y":-0.4},{"x":10.7,"y":1.8},{"x":11.5,"y":-1.2},{"x":11.6,"y":1.1},{"x":12.6,"y":-0.6},{"x":12.7,"y":1.3},{"x":12.5,"y":-2.8},{"x":13.7,"y":0.6},{"x":13.8,"y":-1.9},{"x":13.9,"y":2.8},{"x":14.9,"y":-0.9},{"x":15.0,"y":1.1},{"x":15.1,"y":3.9},{"x":15.2,"y":-3.0},{"x":16.3,"y":0.3},{"x":16.4,"y":-2.0},{"x":16.5,"y":2.2},{"x":17.8,"y":1.3},{"x":17.9,"y":-1.1},{"x":18.0,"y":-3.4},{"x":19.3,"y":-0.2},{"x":19.4,"y":2.0},{"x":19.5,"y":-2.6},{"x":19.6,"y":4.6},{"x":21.0,"y":1.0},{"x":21.1,"y":-1.2},{"x":21.2,"y":3.2},{"x":21.3,"y":-3.8},{"x":22.9,"y":-0.5},{"x":23.0,"y":1.5},{"x":23.1,"y":-2.7},{"x":25.0,"y":0.0},{"x":25.1,"y":2.2},{"x":25.2,"y":-2.3},{"x":27.1,"y":-0.9},{"x":27.2,"y":1.3},{"x":27.3,"y":3.8},{"x":29.7,"y":0.9},{"x":29.8,"y":-1.2},{"x":32.3,"y":-0.1},{"x":32.4,"y":1.9},{"x":35.3,"y":0.7},{"x":35.4,"y":-2.0},{"x":38.4,"y":-0.5},{"x":38.5,"y":1.6},{"x":17.4,"y":6.0},{"x":20.8,"y":-6.2},{"x":14.0,"y":-5.9},{"x":23.4,"y":5.1},{"x":27.5,"y":-4.5},{"x":12.2,"y":3.9}],
"f":[{"x":0.286,"y":18.4},{"x":0.569,"y":25.0},{"x":0.75,"y":32.1},{"x":1.47,"y":26.6},{"x":0.846,"y":-23.2},{"x":1.72,"y":-27.6},{"x":1.99,"y":-37.3},{"x":1.37,"y":-20.5},{"x":1.29,"y":-16.1},{"x":0.957,"y":-6.3},{"x":0.897,"y":14.9},{"x":0.835,"y":10.8},{"x":0.776,"y":9.7},{"x":0.93,"y":6.6},{"x":1.08,"y":2.5},{"x":1.13,"y":8.9},{"x":21.8,"y":17.1},{"x":23.1,"y":14.2},{"x":29.5,"y":7.9},{"x":21.5,"y":7.6},{"x":24.9,"y":-3.7},{"x":15.2,"y":-21.9},{"x":16.8,"y":12.9},{"x":18.2,"y":-9.8},{"x":16.9,"y":-10.5},{"x":8.05,"y":22.9},{"x":2.81,"y":25.5},{"x":2.72,"y":22.6},{"x":3.22,"y":20.7},{"x":5.07,"y":-24.0},{"x":7.54,"y":-22.1},{"x":1.22,"y":-2.7},{"x":1.26,"y":-4.0},{"x":1.33,"y":3.2},{"x":1.47,"y":13.5},{"x":1.49,"y":10.5},{"x":1.52,"y":7.2},{"x":1.55,"y":-0.3},{"x":1.6,"y":14.5},{"x":1.66,"y":13.0},{"x":1.7,"y":2.6},{"x":1.71,"y":-9.5},{"x":1.76,"y":5.0},{"x":1.8,"y":-5.5},{"x":1.83,"y":-18.7},{"x":1.1,"y":-4.6},{"x":1.4,"y":-12.0},{"x":1.62,"y":-14.0},
{"x":1.86,"y":3.5},{"x":1.95,"y":-6.0},{"x":1.89,"y":10.2},{"x":1.97,"y":-13.8},{"x":1.84,"y":16.5},{"x":2.05,"y":-1.0},{"x":2.16,"y":7.4},{"x":2.08,"y":-9.5},{"x":2.14,"y":19.0},{"x":2.02,"y":-14.5},{"x":2.24,"y":2.8},{"x":2.36,"y":-4.2},{"x":2.28,"y":12.5},{"x":2.35,"y":-17.9},{"x":2.22,"y":5.5},{"x":2.44,"y":-2.4},{"x":2.57,"y":8.9},{"x":2.48,"y":-11.8},{"x":2.55,"y":0.5},{"x":2.42,"y":14.8},{"x":2.52,"y":-7.1},{"x":2.63,"y":4.6},{"x":2.78,"y":-5.5},{"x":2.67,"y":17.8},{"x":2.76,"y":-15.2},{"x":2.65,"y":-0.8},{"x":2.73,"y":11.6},{"x":2.83,"y":1.2},{"x":2.98,"y":-8.6},{"x":2.88,"y":6.9},{"x":2.96,"y":-12.9},{"x":2.85,"y":22.5},{"x":2.93,"y":-3.3},{"x":3.03,"y":-1.8},{"x":3.19,"y":9.8},{"x":3.08,"y":-6.4},{"x":3.16,"y":3.9},{"x":3.05,"y":-17.4},{"x":3.13,"y":14.1},{"x":3.25,"y":0.2},{"x":3.44,"y":-10.7},{"x":3.31,"y":6.0},{"x":3.41,"y":-4.0},{"x":3.28,"y":12.0},{"x":3.38,"y":-19.5},{"x":3.33,"y":-14.0},{"x":3.5,"y":2.7},{"x":3.7,"y":-7.5},{"x":3.56,"y":10.0},{"x":3.67,"y":-2.0},{"x":3.53,"y":-12.2},{"x":3.64,"y":17.6},{"x":3.6,"y":5.1},{"x":3.79,"y":-5.0},{"x":4.01,"y":1.5},{"x":3.85,"y":8.2},{"x":3.97,"y":-9.8},{"x":3.82,"y":-15.8},{"x":3.94,"y":12.7},{"x":3.88,"y":-1.0},{"x":4.08,"y":0.0},{"x":4.32,"y":-3.5},{"x":4.15,"y":6.3},{"x":4.27,"y":-11.3},{"x":4.11,"y":4.0},{"x":4.24,"y":-7.2},{"x":4.18,"y":15.4},{"x":4.3,"y":-18.5},{"x":4.38,"y":2.0},{"x":4.63,"y":-6.0},{"x":4.45,"y":9.1},{"x":4.58,"y":-1.5},{"x":4.41,"y":-13.7},{"x":4.55,"y":11.8},{"x":4.48,"y":-4.5},{"x":4.6,"y":5.9},{"x":4.71,"y":-0.5},{"x":4.99,"y":3.6},{"x":4.8,"y":-9.0},{"x":4.93,"y":7.5},{"x":4.75,"y":-2.8},{"x":4.9,"y":-16.9},{"x":4.83,"y":13.9},{"x":4.96,"y":-6.6},{"x":5.05,"y":1.0},{"x":5.35,"y":-4.8},{"x":5.14,"y":5.4},{"x":5.29,"y":-11.0},{"x":5.1,"y":-1.8},{"x":5.26,"y":10.4},{"x":5.19,"y":-14.8},{"x":5.32,"y":19.2},{"x":5.44,"y":-2.5},{"x":5.76,"y":2.7},{"x":5.54,"y":-7.8},{"x":5.7,"y":8.0},{"x":5.49,"y":-0.3},{"x":5.66,"y":-12.4},{"x":5.58,"y":14.8},{"x":5.73,"y":-5.3},{"x":5.83,"y":0.9},{"x":6.17,"y":-3.9},{"x":5.94,"y":4.9},{"x":6.11,"y":-9.5},{"x":5.88,"y":11.1},{"x":6.05,"y":-1.4},{"x":5.98,"y":-17.2},{"x":6.14,"y":6.6},{"x":6.31,"y":-1.1},{"x":6.69,"y":3.2},{"x":6.43,"y":-6.2},{"x":6.62,"y":7.1},{"x":6.37,"y":-11.7},{"x":6.56,"y":-2.9},{"x":6.48,"y":16.0},{"x":6.66,"y":-15.0},{"x":6.8,"y":1.7},{"x":7.2,"y":-4.3},{"x":6.93,"y":9.6},{"x":7.13,"y":-8.3},{"x":6.86,"y":0.4},{"x":7.06,"y":-13.2},{"x":7.17,"y":5.0},{"x":7.29,"y":-2.0},{"x":7.72,"y":3.9},{"x":7.42,"y":-6.8},{"x":7.64,"y":12.4},{"x":7.35,"y":-10.1},{"x":7.57,"y":-0.2},{"x":7.5,"y":19.0},{"x":7.87,"y":0.6},{"x":8.33,"y":-4.9},{"x":8.02,"y":6.0},{"x":8.25,"y":-9.1},{"x":7.94,"y":2.5},{"x":8.17,"y":-14.2},{"x":8.1,"y":13.7},{"x":8.3,"y":-2.3},{"x":8.45,"y":-1.6},{"x":8.95,"y":4.4},{"x":8.61,"y":-7.0},{"x":8.87,"y":9.0},{"x":8.53,"y":-11.9},{"x":8.79,"y":1.2},{"x":9.13,"y":0.2},{"x":9.67,"y":-3.6},{"x":9.3,"y":5.3},{"x":9.58,"y":-8.2},{"x":9.22,"y":11.5},{"x":9.49,"y":-13.9},{"x":9.81,"y":-0.9},{"x":10.39,"y":2.9},{"x":10.0,"y":-5.6},{"x":10.3,"y":7.4},{"x":9.9,"y":-10.8},{"x":10.2,"y":-2.6},{"x":10.6,"y":1.0},{"x":11.2,"y":-3.2},{"x":10.8,"y":4.1},{"x":11.1,"y":-7.3},{"x":10.7,"y":8.6},{"x":11.5,"y":-1.8},{"x":12.1,"y":2.2},{"x":11.7,"y":-5.1},{"x":12.0,"y":6.5},{"x":11.6,"y":-9.9},{"x":12.4,"y":0.5},{"x":13.2,"y":-3.8},{"x":12.7,"y":3.7},{"x":13.1,"y":-6.9},{"x":13.4,"y":-1.0},{"x":14.2,"y":2.6},{"x":13.7,"y":-4.4},{"x":14.1,"y":8.2},{"x":14.6,"y":0.8},{"x":15.4,"y":-2.5},{"x":14.9,"y":-5.6},{"x":15.8,"y":-0.5},{"x":16.7,"y":2.3},{"x":16.2,"y":-4.0},
{"x":2.6,"y":-3.8},{"x":2.9,"y":-5.5},{"x":3.1,"y":2.0},{"x":3.35,"y":-7.4},{"x":3.5,"y":-0.6},{"x":3.75,"y":4.5},{"x":3.9,"y":-12.6},{"x":4.05,"y":-6.3},{"x":4.2,"y":1.4},{"x":4.35,"y":9.9},{"x":4.45,"y":-8.5},{"x":4.6,"y":-2.5},{"x":4.7,"y":3.0},{"x":4.85,"y":-11.5},{"x":4.95,"y":0.7},{"x":5.1,"y":-5.9},{"x":5.2,"y":7.0},{"x":5.35,"y":-2.0},{"x":5.45,"y":-9.2},{"x":5.6,"y":4.0},{"x":5.7,"y":-0.9},{"x":5.85,"y":-6.8},{"x":5.95,"y":2.1},{"x":6.05,"y":-13.0},{"x":6.2,"y":0.0},{"x":6.3,"y":-4.8},{"x":6.45,"y":5.8},{"x":6.55,"y":-8.8},{"x":6.7,"y":-0.5},{"x":6.85,"y":-6.0},{"x":6.95,"y":3.3},{"x":7.1,"y":-10.5},{"x":7.25,"y":1.5},{"x":7.4,"y":-3.2},{"x":7.6,"y":7.8},{"x":7.75,"y":-7.3},{"x":7.9,"y":-1.2},{"x":8.05,"y":-11.0},{"x":8.2,"y":4.5},{"x":8.4,"y":-6.0},{"x":8.6,"y":-0.5},{"x":8.8,"y":-3.9},{"x":9.0,"y":2.4},{"x":9.3,"y":-9.8},{"x":9.5,"y":-1.8},{"x":9.8,"y":4.2},{"x":10.1,"y":-7.8},{"x":10.5,"y":-0.3},{"x":10.9,"y":-5.6},{"x":11.3,"y":2.7},{"x":12.0,"y":-3.0},{"x":12.5,"y":-8.5},{"x":6.0,"y":9.4},{"x":5.3,"y":13.0},{"x":3.3,"y":9.2},{"x":4.0,"y":-20.5},{"x":7.0,"y":-16.5},{"x":8.5,"y":16.5},{"x":3.0,"y":16.0},{"x":11.5,"y":12.3}]
},
"concat":[
{"width":297,"height":24,"view":{"fill":"#d9d9d9","stroke":"#333333"},"data":{"values":[{"s":"TC"}]},"mark":{"type":"text","fontSize":13,"color":"#1a1a1a","baseline":"middle"},"encoding":{"text":{"field":"s"}}},
{"width":297,"height":24,"view":{"fill":"#d9d9d9","stroke":"#333333"},"data":{"values":[{"s":"OC"}]},"mark":{"type":"text","fontSize":13,"color":"#1a1a1a","baseline":"middle"},"encoding":{"text":{"field":"s"}}},
{"width":297,"height":24,"view":{"fill":"#d9d9d9","stroke":"#333333"},"data":{"values":[{"s":"EC"}]},"mark":{"type":"text","fontSize":13,"color":"#1a1a1a","baseline":"middle"},"encoding":{"text":{"field":"s"}}},
{"width":297,"height":279,"resolve":{"axis":{"x":"independent","y":"independent"}},"layer":[
{"data":{"name":"a"},"mark":{"type":"circle","color":"#0000ff","opacity":1,"size":22},"encoding":{"x":{"field":"x","type":"quantitative","scale":{"type":"log","domain":[0.068,460],"nice":false},"axis":{"orient":"bottom","values":[0.1,1,10,100],"format":".1f","grid":true,"title":null}},"y":{"field":"y","type":"quantitative","scale":{"domain":[-55,55],"nice":false,"zero":false},"axis":{"orient":"left","values":[-50,-25,0,25,50],"grid":true,"title":"Scaled Relative Difference"}}}},
{"data":{"values":[{"v":0.2}]},"mark":{"type":"rule","color":"#333333","strokeDash":[4,4],"strokeWidth":1},"encoding":{"x":{"field":"v","type":"quantitative","scale":{"type":"log","domain":[0.068,460],"nice":false},"axis":{"orient":"bottom","values":[0.3162,3.162,31.62,316.2],"grid":true,"gridWidth":0.55,"labels":false,"ticks":false,"title":null}}}},
{"data":{"name":"lim"},"transform":[{"filter":"datum.p=='a'"}],"mark":{"type":"rule","color":"#333333","strokeDash":[4,4],"strokeWidth":1},"encoding":{"y":{"field":"y","type":"quantitative","scale":{"domain":[-55,55],"nice":false,"zero":false},"axis":{"orient":"left","values":[-37.5,-12.5,12.5,37.5],"grid":true,"gridWidth":0.55,"labels":false,"ticks":false,"title":null}}}},
{"data":{"values":[{"v":0}]},"mark":{"type":"rule","color":"#333333","strokeWidth":1},"encoding":{"y":{"field":"v","type":"quantitative","scale":{"domain":[-55,55],"nice":false,"zero":false},"axis":null}}},
{"data":{"name":"lab"},"transform":[{"filter":"datum.p=='a'"}],"mark":{"type":"text","font":"Liberation Serif","fontWeight":"bold","fontSize":21,"align":"left","baseline":"middle","color":"#000000"},"encoding":{"x":{"field":"x","type":"quantitative","scale":{"type":"log","domain":[0.068,460],"nice":false},"axis":null},"y":{"field":"y","type":"quantitative","scale":{"domain":[-55,55],"nice":false,"zero":false},"axis":null},"text":{"field":"t"}}}
]},
{"width":297,"height":271,"resolve":{"axis":{"x":"independent","y":"independent"}},"layer":[
{"data":{"name":"b"},"mark":{"type":"circle","color":"#0000ff","opacity":1,"size":22},"encoding":{"x":{"field":"x","type":"quantitative","scale":{"type":"log","domain":[0.068,460],"nice":false},"axis":{"orient":"bottom","values":[0.1,1,10,100],"format":".1f","grid":true,"title":"Sunset Average Massloading (μg/cm²)","titlePadding":6}},"y":{"field":"y","type":"quantitative","scale":{"domain":[-55,55],"nice":false,"zero":false},"axis":{"orient":"left","values":[-50,-25,0,25,50],"grid":true,"title":null}}}},
{"data":{"values":[{"v":0.2}]},"mark":{"type":"rule","color":"#333333","strokeDash":[4,4],"strokeWidth":1},"encoding":{"x":{"field":"v","type":"quantitative","scale":{"type":"log","domain":[0.068,460],"nice":false},"axis":{"orient":"bottom","values":[0.3162,3.162,31.62,316.2],"grid":true,"gridWidth":0.55,"labels":false,"ticks":false,"title":null}}}},
{"data":{"name":"lim"},"transform":[{"filter":"datum.p=='b'"}],"mark":{"type":"rule","color":"#333333","strokeDash":[4,4],"strokeWidth":1},"encoding":{"y":{"field":"y","type":"quantitative","scale":{"domain":[-55,55],"nice":false,"zero":false},"axis":{"orient":"left","values":[-37.5,-12.5,12.5,37.5],"grid":true,"gridWidth":0.55,"labels":false,"ticks":false,"title":null}}}},
{"data":{"values":[{"v":0}]},"mark":{"type":"rule","color":"#333333","strokeWidth":1},"encoding":{"y":{"field":"v","type":"quantitative","scale":{"domain":[-55,55],"nice":false,"zero":false},"axis":null}}},
{"data":{"name":"lab"},"transform":[{"filter":"datum.p=='b'"}],"mark":{"type":"text","font":"Liberation Serif","fontWeight":"bold","fontSize":21,"align":"left","baseline":"middle","color":"#000000"},"encoding":{"x":{"field":"x","type":"quantitative","scale":{"type":"log","domain":[0.068,460],"nice":false},"axis":null},"y":{"field":"y","type":"quantitative","scale":{"domain":[-55,55],"nice":false,"zero":false},"axis":null},"text":{"field":"t"}}}
]},
{"width":297,"height":279,"resolve":{"axis":{"x":"independent","y":"independent"}},"layer":[
{"data":{"name":"c"},"mark":{"type":"circle","color":"#0000ff","opacity":1,"size":22},"encoding":{"x":{"field":"x","type":"quantitative","scale":{"type":"log","domain":[0.074,46],"nice":false},"axis":{"orient":"bottom","values":[0.1,1,10],"format":".1f","grid":true,"title":null}},"y":{"field":"y","type":"quantitative","scale":{"domain":[-55,55],"nice":false,"zero":false},"axis":{"orient":"left","values":[-50,-25,0,25,50],"grid":true,"title":null}}}},
{"data":{"values":[{"v":0.2}]},"mark":{"type":"rule","color":"#333333","strokeDash":[4,4],"strokeWidth":1},"encoding":{"x":{"field":"v","type":"quantitative","scale":{"type":"log","domain":[0.074,46],"nice":false},"axis":{"orient":"bottom","values":[0.3162,3.162,31.62],"grid":true,"gridWidth":0.55,"labels":false,"ticks":false,"title":null}}}},
{"data":{"name":"lim"},"transform":[{"filter":"datum.p=='c'"}],"mark":{"type":"rule","color":"#333333","strokeDash":[4,4],"strokeWidth":1},"encoding":{"y":{"field":"y","type":"quantitative","scale":{"domain":[-55,55],"nice":false,"zero":false},"axis":{"orient":"left","values":[-37.5,-12.5,12.5,37.5],"grid":true,"gridWidth":0.55,"labels":false,"ticks":false,"title":null}}}},
{"data":{"values":[{"v":0}]},"mark":{"type":"rule","color":"#333333","strokeWidth":1},"encoding":{"y":{"field":"v","type":"quantitative","scale":{"domain":[-55,55],"nice":false,"zero":false},"axis":null}}},
{"data":{"name":"lab"},"transform":[{"filter":"datum.p=='c'"}],"mark":{"type":"text","font":"Liberation Serif","fontWeight":"bold","fontSize":21,"align":"left","baseline":"middle","color":"#000000"},"encoding":{"x":{"field":"x","type":"quantitative","scale":{"type":"log","domain":[0.074,46],"nice":false},"axis":null},"y":{"field":"y","type":"quantitative","scale":{"domain":[-55,55],"nice":false,"zero":false},"axis":null},"text":{"field":"t"}}}
]},
{"width":297,"height":54,"view":{"stroke":null},"data":{"values":[{"s":""}]},"mark":{"type":"text"},"encoding":{"text":{"field":"s"}}},
{"width":297,"height":54,"view":{"stroke":null},"data":{"values":[{"s":""}]},"mark":{"type":"text"},"encoding":{"text":{"field":"s"}}},
{"width":297,"height":54,"view":{"stroke":null},"data":{"values":[{"s":""}]},"mark":{"type":"text"},"encoding":{"text":{"field":"s"}}},
{"width":297,"height":24,"view":{"fill":"#d9d9d9","stroke":"#333333"},"data":{"values":[{"s":"TC"}]},"mark":{"type":"text","fontSize":13,"color":"#1a1a1a","baseline":"middle"},"encoding":{"text":{"field":"s"}}},
{"width":297,"height":24,"view":{"fill":"#d9d9d9","stroke":"#333333"},"data":{"values":[{"s":"OC"}]},"mark":{"type":"text","fontSize":13,"color":"#1a1a1a","baseline":"middle"},"encoding":{"text":{"field":"s"}}},
{"width":297,"height":24,"view":{"fill":"#d9d9d9","stroke":"#333333"},"data":{"values":[{"s":"EC"}]},"mark":{"type":"text","fontSize":13,"color":"#1a1a1a","baseline":"middle"},"encoding":{"text":{"field":"s"}}},
{"width":297,"height":279,"resolve":{"axis":{"x":"independent","y":"independent"}},"layer":[
{"data":{"name":"d"},"mark":{"type":"circle","color":"#ff0000","opacity":1,"size":22},"encoding":{"x":{"field":"x","type":"quantitative","scale":{"type":"log","domain":[0.068,460],"nice":false},"axis":{"orient":"bottom","values":[0.1,1,10,100],"format":".1f","grid":true,"title":null}},"y":{"field":"y","type":"quantitative","scale":{"domain":[-55,55],"nice":false,"zero":false},"axis":{"orient":"left","values":[-50,-25,0,25,50],"grid":true,"title":"Scaled Relative Difference"}}}},
{"data":{"values":[{"v":0.2}]},"mark":{"type":"rule","color":"#333333","strokeDash":[4,4],"strokeWidth":1},"encoding":{"x":{"field":"v","type":"quantitative","scale":{"type":"log","domain":[0.068,460],"nice":false},"axis":{"orient":"bottom","values":[0.3162,3.162,31.62,316.2],"grid":true,"gridWidth":0.55,"labels":false,"ticks":false,"title":null}}}},
{"data":{"name":"lim"},"transform":[{"filter":"datum.p=='d'"}],"mark":{"type":"rule","color":"#333333","strokeDash":[4,4],"strokeWidth":1},"encoding":{"y":{"field":"y","type":"quantitative","scale":{"domain":[-55,55],"nice":false,"zero":false},"axis":{"orient":"left","values":[-37.5,-12.5,12.5,37.5],"grid":true,"gridWidth":0.55,"labels":false,"ticks":false,"title":null}}}},
{"data":{"values":[{"v":0}]},"mark":{"type":"rule","color":"#333333","strokeWidth":1},"encoding":{"y":{"field":"v","type":"quantitative","scale":{"domain":[-55,55],"nice":false,"zero":false},"axis":null}}},
{"data":{"name":"lab"},"transform":[{"filter":"datum.p=='d'"}],"mark":{"type":"text","font":"Liberation Serif","fontWeight":"bold","fontSize":21,"align":"left","baseline":"middle","color":"#000000"},"encoding":{"x":{"field":"x","type":"quantitative","scale":{"type":"log","domain":[0.068,460],"nice":false},"axis":null},"y":{"field":"y","type":"quantitative","scale":{"domain":[-55,55],"nice":false,"zero":false},"axis":null},"text":{"field":"t"}}}
]},
{"width":297,"height":271,"resolve":{"axis":{"x":"independent","y":"independent"}},"layer":[
{"data":{"name":"e"},"mark":{"type":"circle","color":"#ff0000","opacity":1,"size":22},"encoding":{"x":{"field":"x","type":"quantitative","scale":{"type":"log","domain":[0.068,460],"nice":false},"axis":{"orient":"bottom","values":[0.1,1,10,100],"format":".1f","grid":true,"title":"DRI-2015 Average Massloading (μg/cm²)","titlePadding":6}},"y":{"field":"y","type":"quantitative","scale":{"domain":[-55,55],"nice":false,"zero":false},"axis":{"orient":"left","values":[-50,-25,0,25,50],"grid":true,"title":null}}}},
{"data":{"values":[{"v":0.2}]},"mark":{"type":"rule","color":"#333333","strokeDash":[4,4],"strokeWidth":1},"encoding":{"x":{"field":"v","type":"quantitative","scale":{"type":"log","domain":[0.068,460],"nice":false},"axis":{"orient":"bottom","values":[0.3162,3.162,31.62,316.2],"grid":true,"gridWidth":0.55,"labels":false,"ticks":false,"title":null}}}},
{"data":{"name":"lim"},"transform":[{"filter":"datum.p=='e'"}],"mark":{"type":"rule","color":"#333333","strokeDash":[4,4],"strokeWidth":1},"encoding":{"y":{"field":"y","type":"quantitative","scale":{"domain":[-55,55],"nice":false,"zero":false},"axis":{"orient":"left","values":[-37.5,-12.5,12.5,37.5],"grid":true,"gridWidth":0.55,"labels":false,"ticks":false,"title":null}}}},
{"data":{"values":[{"v":0}]},"mark":{"type":"rule","color":"#333333","strokeWidth":1},"encoding":{"y":{"field":"v","type":"quantitative","scale":{"domain":[-55,55],"nice":false,"zero":false},"axis":null}}},
{"data":{"name":"lab"},"transform":[{"filter":"datum.p=='e'"}],"mark":{"type":"text","font":"Liberation Serif","fontWeight":"bold","fontSize":21,"align":"left","baseline":"middle","color":"#000000"},"encoding":{"x":{"field":"x","type":"quantitative","scale":{"type":"log","domain":[0.068,460],"nice":false},"axis":null},"y":{"field":"y","type":"quantitative","scale":{"domain":[-55,55],"nice":false,"zero":false},"axis":null},"text":{"field":"t"}}}
]},
{"width":297,"height":279,"resolve":{"axis":{"x":"independent","y":"independent"}},"layer":[
{"data":{"name":"f"},"mark":{"type":"circle","color":"#ff0000","opacity":1,"size":22},"encoding":{"x":{"field":"x","type":"quantitative","scale":{"type":"log","domain":[0.074,46],"nice":false},"axis":{"orient":"bottom","values":[0.1,1,10],"format":".1f","grid":true,"title":null}},"y":{"field":"y","type":"quantitative","scale":{"domain":[-55,55],"nice":false,"zero":false},"axis":{"orient":"left","values":[-50,-25,0,25,50],"grid":true,"title":null}}}},
{"data":{"values":[{"v":0.2}]},"mark":{"type":"rule","color":"#333333","strokeDash":[4,4],"strokeWidth":1},"encoding":{"x":{"field":"v","type":"quantitative","scale":{"type":"log","domain":[0.074,46],"nice":false},"axis":{"orient":"bottom","values":[0.3162,3.162,31.62],"grid":true,"gridWidth":0.55,"labels":false,"ticks":false,"title":null}}}},
{"data":{"name":"lim"},"transform":[{"filter":"datum.p=='f'"}],"mark":{"type":"rule","color":"#333333","strokeDash":[4,4],"strokeWidth":1},"encoding":{"y":{"field":"y","type":"quantitative","scale":{"domain":[-55,55],"nice":false,"zero":false},"axis":{"orient":"left","values":[-37.5,-12.5,12.5,37.5],"grid":true,"gridWidth":0.55,"labels":false,"ticks":false,"title":null}}}},
{"data":{"values":[{"v":0}]},"mark":{"type":"rule","color":"#333333","strokeWidth":1},"encoding":{"y":{"field":"v","type":"quantitative","scale":{"domain":[-55,55],"nice":false,"zero":false},"axis":null}}},
{"data":{"name":"lab"},"transform":[{"filter":"datum.p=='f'"}],"mark":{"type":"text","font":"Liberation Serif","fontWeight":"bold","fontSize":21,"align":"left","baseline":"middle","color":"#000000"},"encoding":{"x":{"field":"x","type":"quantitative","scale":{"type":"log","domain":[0.074,46],"nice":false},"axis":null},"y":{"field":"y","type":"quantitative","scale":{"domain":[-55,55],"nice":false,"zero":false},"axis":null},"text":{"field":"t"}}}
]}
],
"columns":3,
"spacing":{"row":0,"column":61},
"bounds":"flush"
}
